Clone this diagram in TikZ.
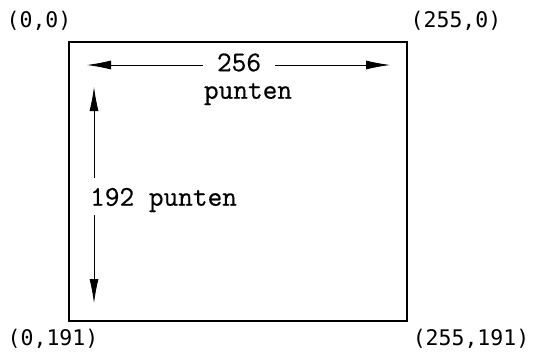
\documentclass[tikz,border=0pt]{standalone}
\usepackage{fontspec}
\newfontfamily\twfont{Latin Modern Mono}[FakeBold=0.5]
\newfontfamily\cornerfont{DejaVu Sans Mono}
\usetikzlibrary{arrows.meta}
\begin{document}
\begin{tikzpicture}[x=1pt,y=-1pt,
  lbl/.style={font=\fontsize{28.5}{32}\selectfont\twfont, inner sep=0pt},
  corner/.style={font=\fontsize{21.5}{25}\selectfont\cornerfont, inner sep=0pt},
  frame/.style={draw, line width=1.4pt},
  arr/.style={line width=0.8pt, -{Latex[length=24pt,width=9pt]}}]
\useasboundingbox (0,0) rectangle (535,351);
\draw[frame] (69,42) rectangle (407,321);
\node[corner] (c00) at (39,21) {(0,0)};
\node[corner] (c2550) at (456,21) {(255,0)};
\node[corner] (c0191) at (53,338.5) {(0,191)};
\node[corner] (c255191) at (471,338.5) {(255,191)};
\coordinate (hl) at (87,65);
\coordinate (hr) at (390,65);
\coordinate (vt) at (94,87);
\coordinate (vb) at (94,303);
\node[lbl, inner xsep=14pt] (n256) at (239,62.5) {256};
\node[lbl] (punten) at (248,94) {punten};
\node[lbl, anchor=west] (v192) at (90,200) {192 punten};
\draw[arr, shorten <=10pt] (vt |- v192.north) -- (vt);
\draw[arr, shorten <=3pt] (vb |- v192.south) -- (vb);
\draw[arr] (n256.west |- hl) -- (hl);
\draw[arr] (n256.east |- hr) -- (hr);
\end{tikzpicture}
\end{document}
